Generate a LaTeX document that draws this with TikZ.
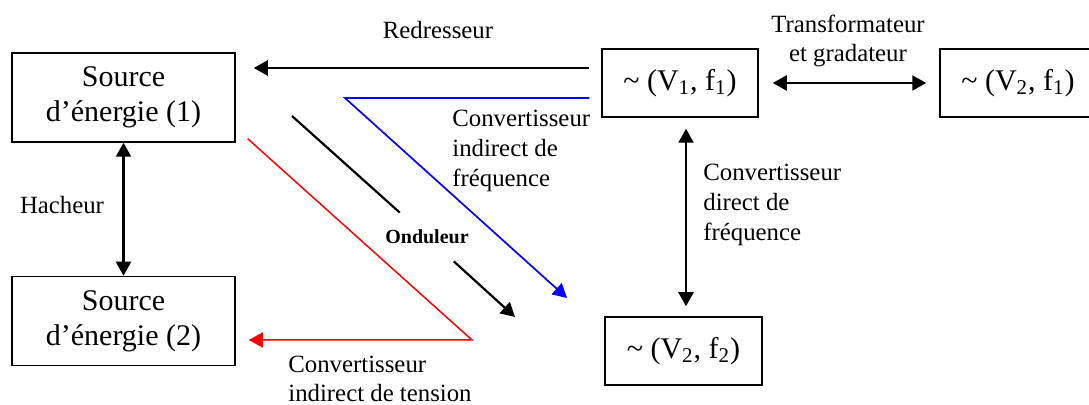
\documentclass[tikz,border=0pt]{standalone}
\usepackage{fontspec}
\setmainfont{Liberation Serif}
\usetikzlibrary{arrows.meta, positioning}
\tikzset{
  srcbox/.style={rectangle, draw, line width=0.75pt, align=center, inner sep=0pt,
                 minimum width=111.5pt, minimum height=44.5pt,
                 font=\fontsize{15}{17.5}\selectfont},
  vbox/.style={rectangle, draw, line width=0.75pt, inner sep=0pt,
               minimum width=78pt, minimum height=34pt,
               font=\fontsize{15}{17.5}\selectfont},
  lbl/.style={align=left, inner sep=0pt, font=\fontsize{12.4}{14.8}\selectfont},
  tip/.tip={Triangle[length=7pt, width=7.5pt]},
  conv/.style={-tip, line width=1.1pt},
  biconv/.style={tip-tip, line width=1.1pt}
}
\newcommand{\vf}[2]{\textasciitilde\ (V\textsubscript{#1}, f\textsubscript{#2})}

\begin{document}
\begin{tikzpicture}[x=0.5pt, y=-0.5pt]
  \useasboundingbox (0,0) rectangle (1089,405);

  % sources et reseaux
  \node[srcbox] (src1) at (123.5,97.5) {Source\\d’énergie (1)};
  \node[srcbox] (src2) at (123.5,321)  {Source\\d’énergie (2)};
  \node[vbox] (vf11) at (680,83)    {\vf{1}{1}};
  \node[vbox] (vf21) at (1018,83)   {\vf{2}{1}};
  \node[vbox, minimum width=78.5pt] (vf22) at (683.5,351) {\vf{2}{2}};

  % points libres
  \coordinate (redin)  at ([xshift=-6pt, yshift=7.5pt]vf11.west);
  \coordinate (fstart) at ([xshift=-6pt, yshift=-7.5pt]vf11.west);
  \coordinate (fbend)  at (345,98);
  \coordinate (fend)   at (567,298);
  \coordinate (ostart) at (292,116);
  \coordinate (oend)   at (515,317);
  \coordinate (tstart) at ([xshift=6pt, yshift=2pt]src1.south east);
  \coordinate (tbend)  at (472,340);

  \node[font=\fontsize{10}{12}\selectfont\bfseries, inner sep=0pt,
        minimum width=54pt, minimum height=24pt] (ond) at (427,237) {Onduleur};

  % convertisseurs
  \draw[biconv] (src1) -- (src2);
  \draw[conv, shorten >=9pt] (redin) -- (redin -| src1.east);
  \draw[biconv, shorten <=7pt, shorten >=6.5pt] (vf11) -- (vf21);
  \draw[biconv, shorten <=5.5pt, shorten >=5pt]
    ([xshift=3pt]vf11.south) -- ([xshift=3pt]vf11.south |- vf22.north);
  \draw[-tip, blue, line width=0.85pt] (fstart) -- (fbend) -- (fend);
  \draw[line width=1.1pt] (ostart) -- (ond);
  \draw[conv] (ond) -- (oend);
  \draw[-tip, red, line width=0.75pt, shorten >=6.5pt]
    (tstart) -- (tbend) -- (tbend -| src2.east);

  % textes
  \node[lbl] (hach) at (62,205) {Hacheur};
  \node[lbl] (redr) at (438,30) {Redresseur};
  \node[lbl, align=center] (trans) at (848,41) {Transformateur\\et gradateur};
  \node[lbl, anchor=west] (cif) at (452,151) {Convertisseur\\indirect de\\fréquence};
  \node[lbl, anchor=west] (cdf) at (703,205) {Convertisseur\\direct de\\fréquence};
  \node[lbl, anchor=west] (cit) at (288,379) {Convertisseur\\indirect de tension};
\end{tikzpicture}
\end{document}
